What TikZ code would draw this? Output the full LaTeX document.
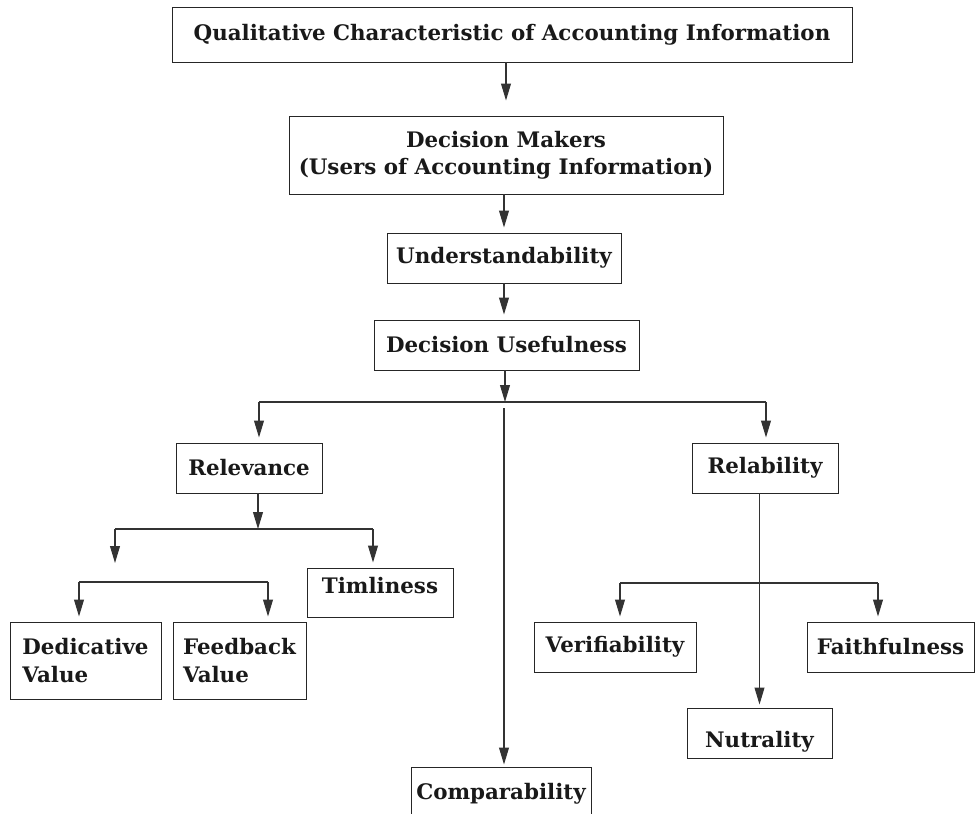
\documentclass[tikz,border=0pt]{standalone}
\usepackage{fontspec}
\setmainfont{DejaVu Serif}
\usepackage{tikz}
\usetikzlibrary{positioning}
\usetikzlibrary{arrows.meta}

\begin{document}
\begin{tikzpicture}[x=0.025cm, y=-0.025cm, >={Triangle[width=7pt, length=12pt]},
    box/.style = {draw=black!85, rectangle, line width=0.7pt, inner sep=0pt,
        text=black!90, font=\bfseries\fontsize{15.2}{19.5}\selectfont},
    conn/.style = {draw=black!80, line width=0.8pt},
    lifted/.style = {text height=11pt, text depth=#1},
    lowered/.style = {text depth=0pt, text height=#1}
    ]
    \useasboundingbox (0,0) rectangle (975,814);

    \node[box, minimum width=680*0.025cm, minimum height=55*0.025cm] (top) at (512,34.5)
        {Qualitative Characteristic of Accounting Information};
    \node[box, align=center, minimum width=434*0.025cm, minimum height=78*0.025cm] (dm) at (506,155)
        {Decision Makers\\(Users of Accounting Information)};
    \node[box, minimum width=234*0.025cm, minimum height=50*0.025cm] (und) at (504,258) {Understandability};
    \node[box, minimum width=265*0.025cm, minimum height=50*0.025cm] (du) at (506.5,345) {Decision Usefulness};

    \node[box, minimum width=146*0.025cm, minimum height=50*0.025cm] (rel) at (249,468) {Relevance};
    \node[box, minimum width=146*0.025cm, minimum height=50*0.025cm] (rbl) at (765,468) {Relability};
    \node[box, lifted=9pt, minimum width=146*0.025cm, minimum height=49*0.025cm] (tim) at (380,592.5) {Timliness};
    \node[box, align=left, minimum width=151*0.025cm, minimum height=77*0.025cm] (ded) at (85.5,660.5)
        {Dedicative\\Value};
    \node[box, align=left, minimum width=133*0.025cm, minimum height=77*0.025cm] (fb) at (239.5,660.5)
        {Feedback\\Value};
    \node[box, minimum width=162*0.025cm, minimum height=50*0.025cm] (ver) at (615,647) {Verifiability};
    \node[box, minimum width=167*0.025cm, minimum height=50*0.025cm] (fth) at (890.5,647) {Faithfulness};
    \node[box, lowered=20pt, minimum width=145*0.025cm, minimum height=50*0.025cm] (nut) at (759.5,733) {Nutrality};
    \node[box, lifted=7pt, minimum width=180*0.025cm, minimum height=60*0.025cm] (cmp) at (501,797) {Comparability};

    % split points
    \coordinate (dusplit) at (505,402);
    \coordinate (dul) at (259,402);
    \coordinate (dur) at (766,402);
    \coordinate (cmptop) at (504,408);
    \coordinate (relsplit) at (258,529);
    \coordinate (rell) at (115,529);
    \coordinate (relr) at (373,529);
    \coordinate (relend) at (115,563);
    \coordinate (vall) at (79,582);
    \coordinate (valr) at (268,582);
    \coordinate (rbll) at (620,583);
    \coordinate (rblr) at (878,583);

    \draw[conn, ->, shorten >=15*0.025cm] (dm.north |- top.south) -- (dm.north);
    \draw[conn, ->, shorten >=5*0.025cm] (und.north |- dm.south) -- (und.north);
    \draw[conn, ->, shorten >=5*0.025cm] (und.south) -- (und.south |- du.north);
    \draw[conn, ->] (dusplit |- du.south) -- (dusplit);

    \draw[conn] (dul) -- (dur);
    \draw[conn, ->, shorten >=5*0.025cm] (dul) -- (dul |- rel.north);
    \draw[conn, ->, shorten >=5*0.025cm] (dur) -- (dur |- rbl.north);
    \draw[conn, ->, shorten >=2*0.025cm] (cmptop) -- (cmptop |- cmp.north);

    \draw[conn, ->] (relsplit |- rel.south) -- (relsplit);
    \draw[conn] (rell) -- (relr);
    \draw[conn, ->] (rell) -- (relend);
    \draw[conn, ->, shorten >=5*0.025cm] (relr) -- (relr |- tim.north);
    \draw[conn] (vall) -- (valr);
    \draw[conn, ->, shorten >=5*0.025cm] (vall) -- (vall |- ded.north);
    \draw[conn, ->, shorten >=5*0.025cm] (valr) -- (valr |- fb.north);

    \draw[conn, ->, shorten >=3*0.025cm] (rbl.south -| nut.north) -- (nut.north);
    \draw[conn] (rbll) -- (rblr);
    \draw[conn, ->, shorten >=5*0.025cm] (rbll) -- (rbll |- ver.north);
    \draw[conn, ->, shorten >=5*0.025cm] (rblr) -- (rblr |- fth.north);
\end{tikzpicture}
\end{document}
